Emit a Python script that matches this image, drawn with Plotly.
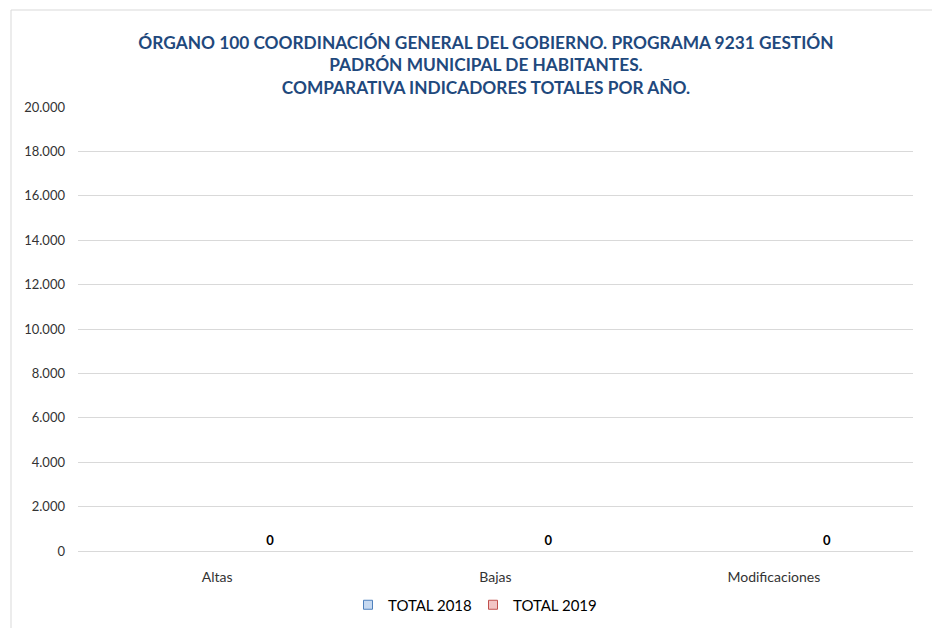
import plotly.graph_objects as go

categories = ["Altas", "Bajas", "Modificaciones"]
total_2018 = [0, 0, 0]
total_2019 = [0, 0, 0]
series_names = ["TOTAL 2018", "TOTAL 2019"]
y_ticks = [0, 2000, 4000, 6000, 8000, 10000, 12000, 14000, 16000, 18000, 20000]
y_tick_labels = ["0", "2.000", "4.000", "6.000", "8.000", "10.000", "12.000",
                 "14.000", "16.000", "18.000", "20.000"]

W, H = 940, 628
OFF = 8  # page body margin
ml, mt = 78 - OFF, 107 - OFF
mr, mb = W - (913 - OFF), H - (551 - OFF)
pw, ph = W - ml - mr, H - mt - mb
FONT = "Lato"

fill_2018, line_2018 = "#C6D9F1", "#4F81BD"
fill_2019, line_2019 = "#F2C4C4", "#C0504D"

fig = go.Figure()
fig.add_trace(go.Bar(
    x=categories, y=total_2018, name=series_names[0], showlegend=False,
    marker=dict(color=fill_2018, line=dict(color=line_2018, width=0)),
))
fig.add_trace(go.Bar(
    x=categories, y=total_2019, name=series_names[1], showlegend=False,
    marker=dict(color=fill_2019, line=dict(color=line_2019, width=0)),
    text=[str(v) for v in total_2019], textposition="outside",
    textfont=dict(family=FONT, size=13, color="#000000", weight="bold"),
    cliponaxis=False,
))
# legend entries (square swatches with border, as in the reference)
for name, fc, lc in [(series_names[0], fill_2018, line_2018),
                     (series_names[1], fill_2019, line_2019)]:
    fig.add_trace(go.Scatter(
        x=[None], y=[None], mode="markers", name=name,
        marker=dict(symbol="square", size=9, color=fc, line=dict(color=lc, width=1)),
    ))

fig.update_layout(
    width=W, height=H,
    margin=dict(l=ml, r=mr, t=mt, b=mb, autoexpand=False),
    paper_bgcolor="white", plot_bgcolor="white",
    barmode="group", bargap=0.237, bargroupgap=0,
    font=dict(family=FONT, size=12, color="#595959"),
    title=dict(
        text="ÓRGANO 100 COORDINACIÓN GENERAL DEL GOBIERNO. PROGRAMA 9231 GESTIÓN<br>"
             "PADRÓN MUNICIPAL DE HABITANTES.<br>COMPARATIVA INDICADORES TOTALES POR AÑO.",
        x=(486 - OFF) / W, xanchor="center", y=1 - 41 / H, yanchor="middle",
        font=dict(family=FONT, size=17.3, color="#1F497D", weight="bold"),
    ),
    xaxis=dict(showgrid=False, showline=False, ticks="", ticklabelstandoff=16,
               tickfont=dict(family=FONT, size=14, color="#333333")),
    yaxis=dict(range=[0, 20000], tickvals=y_ticks, ticktext=y_tick_labels,
               showgrid=True, gridcolor="#D9D9D9", gridwidth=1,
               zeroline=True, zerolinecolor="#D9D9D9", zerolinewidth=1,
               showline=False, ticks="", ticklabelstandoff=12,
               tickfont=dict(family=FONT, size=13, color="#333333")),
    legend=dict(orientation="h", x=(473 - OFF - ml) / pw, xanchor="center",
                y=-(605 - 551) / ph, yanchor="middle",
                font=dict(family=FONT, size=15, color="#000000"), itemwidth=30,
                entrywidth=80, entrywidthmode="pixels",
                traceorder="normal"),
    showlegend=True,
)

fig.add_shape(type="rect", xref="paper", yref="paper",
              x0=(11 - 78) / pw, x1=(W + 20 - 78) / pw,
              y0=-(H + 20 - 551) / ph, y1=(551 - 10) / ph,
              line=dict(color="#D9D9D9", width=1), fillcolor="rgba(0,0,0,0)",
              layer="below")

fig.write_html("out.html")
